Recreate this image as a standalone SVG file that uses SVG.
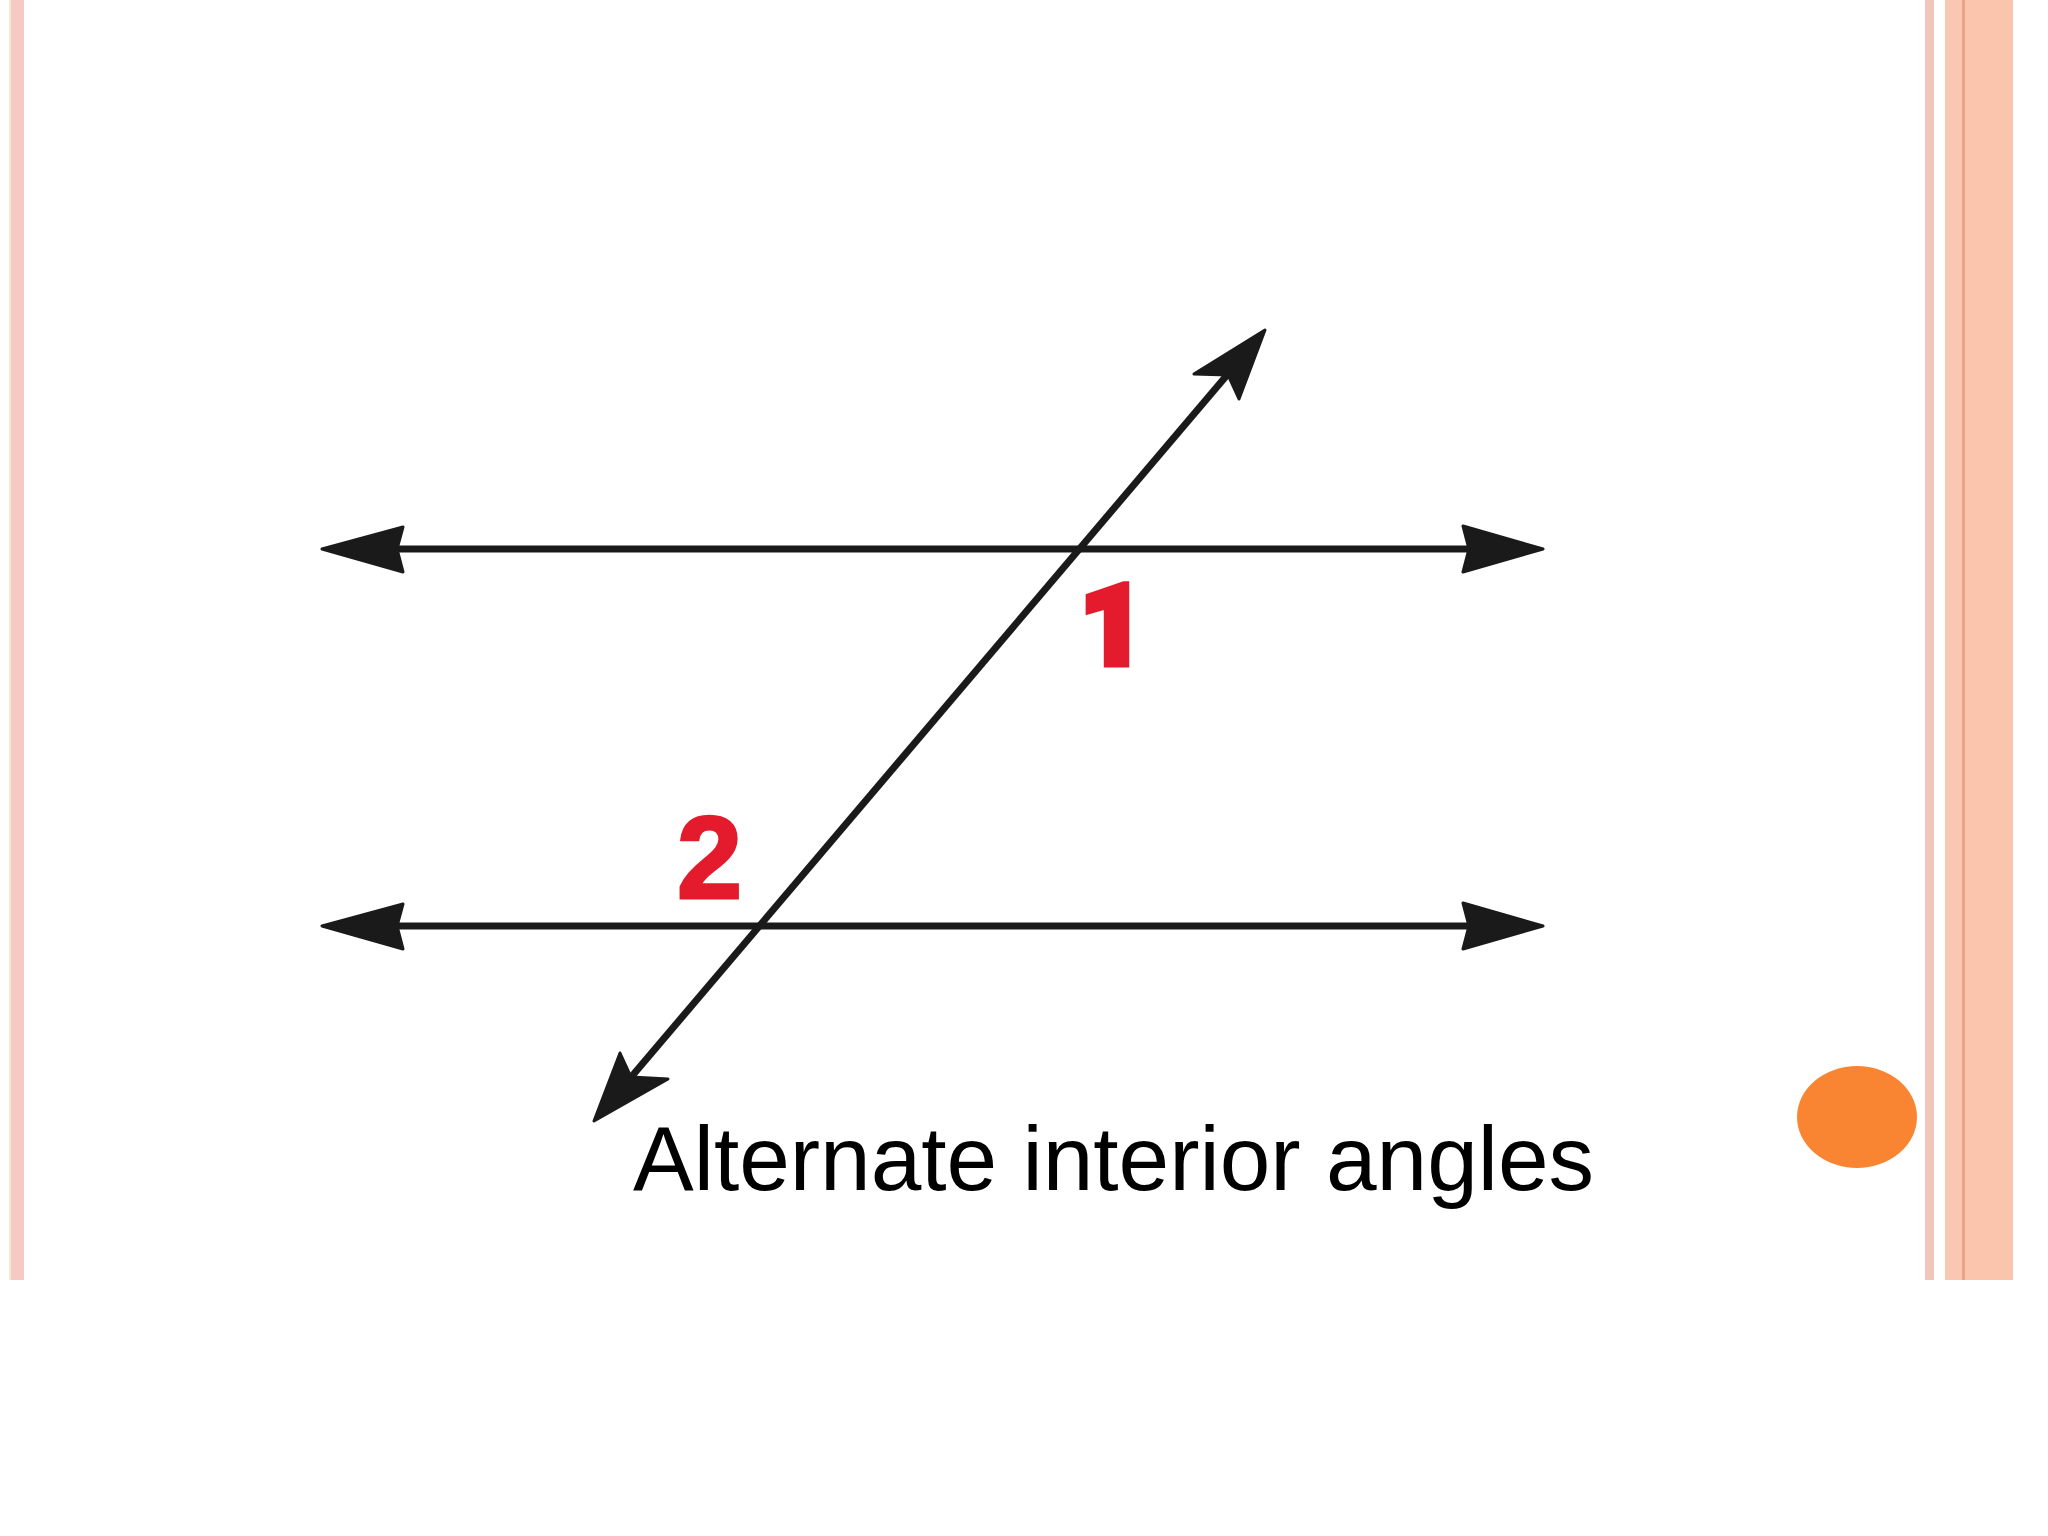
<svg xmlns="http://www.w3.org/2000/svg" width="2048" height="1536" viewBox="0 0 2048 1536">
<style>
.ln{stroke:#1a1a1a;stroke-width:7;fill:none}
.ah{fill:#1a1a1a;stroke:#1a1a1a;stroke-width:3;stroke-linejoin:round}
.num{font-family:"Liberation Sans",Arial,sans-serif;font-weight:bold;font-size:117px;fill:#e31b2c;stroke:#e31b2c;stroke-width:3}
.num1{font-family:Roboto,"Liberation Sans",Arial,sans-serif;font-weight:900;font-size:112px;fill:#e31b2c;stroke:#e31b2c;stroke-width:7;stroke-linejoin:miter}
.cap{font-family:"Liberation Sans",Arial,sans-serif;font-size:91px;fill:#000}
</style>
<rect width="2048" height="1536" fill="#fff"/>
<g id="border-left">
<rect x="9" y="0" width="2" height="1280" fill="#f3ead0"/>
<rect x="11" y="0" width="13" height="1280" fill="#f6c9c3"/>
</g>
<g id="border-right">
<rect x="1925" y="0" width="9" height="1280" fill="#f2c6bb"/>
<rect x="1945" y="0" width="18" height="1280" fill="#f9c7b2"/>
<rect x="1962" y="0" width="3" height="1280" fill="#e8a58a"/>
<rect x="1965" y="0" width="48" height="1280" fill="#fbc5ad"/>
</g>
<g id="connectors">
<line class="ln" x1="380" y1="549" x2="1480" y2="549"/>
<line class="ln" x1="380" y1="926" x2="1480" y2="926"/>
<line class="ln" x1="610" y1="1102" x2="1250" y2="348"/>
</g>
<g id="arrowheads">
<polygon class="ah" points="322,549 403,527 397,549 403,572"/>
<polygon class="ah" points="1543,549 1463,526 1469,549 1463,572"/>
<polygon class="ah" points="322,926 403,904 397,926 403,949"/>
<polygon class="ah" points="1543,926 1463,903 1469,926 1463,949"/>
<polygon class="ah" points="1265,330 1239,399 1228,375 1194,374"/>
<polygon class="ah" points="594,1121 620,1053 631,1077 668,1079"/>
</g>
<g id="label-1"><text class="num1" x="1080" y="664">1</text></g>
<g id="label-2"><text class="num" x="677" y="898">2</text></g>
<g id="caption"><text class="cap" x="633" y="1190">Alternate interior angles</text></g>
<g id="bullet"><ellipse cx="1857" cy="1117" rx="60" ry="51" fill="#f98533"/></g>
</svg>
